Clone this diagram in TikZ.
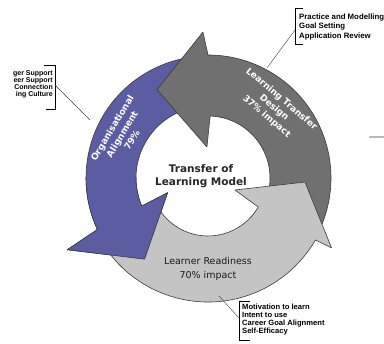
\documentclass[tikz,border=0pt]{standalone}
\usepackage{fontspec}
\setmainfont{DejaVu Sans}
\newfontfamily\calloutfont{Liberation Sans}
\usetikzlibrary{calc}

\definecolor{orgpurple}{RGB}{92,92,163}
\definecolor{designgray}{RGB}{112,112,112}
\definecolor{readylight}{RGB}{196,196,196}
\definecolor{edgegray}{RGB}{60,60,60}

\tikzset{
  arrowshape/.style={draw=edgegray, line width=0.6pt, line join=round},
  bandtext/.style={text=white, font=\bfseries\fontsize{9}{11.5}\selectfont, align=center, inner sep=0pt},
  calloutbox/.style={inner sep=0pt, text=black},
  bracket/.style={draw=black, line width=0.6pt},
  leader/.style={draw=black!75, line width=0.4pt}
}

\begin{document}
\begin{tikzpicture}[x=1pt,y=-1pt]
\useasboundingbox (0,0) rectangle (384,344);
\fill[white] (0,0) rectangle (384,344);

% the three arrows of the cycle, around a common centre
\begin{scope}[shift={(208,178)}, y=1pt]
  % Organisational Alignment
  \def\purplearrow{(100:122) arc[start angle=100,end angle=205,radius=122]
      -- (207:158) -- (232:103) -- (200:43) -- (203:72)
      arc[start angle=203,end angle=100,radius=72] -- cycle}
  \path[arrowshape, fill=orgpurple] \purplearrow;
  % Learning Transfer Design
  \path[arrowshape, fill=designgray] (-22:123) arc[start angle=-22,end angle=90,radius=123]
      -- (92:146) -- (120:102) -- (92:31) -- (88:62)
      arc[start angle=88,end angle=-22,radius=62] -- cycle;
  % Learner Readiness
  \path[arrowshape, fill=readylight] (205:124) arc[start angle=205,end angle=330,radius=124]
      -- (330.5:142) -- (357.6:97) -- (336:29.5) -- (330:58)
      arc[start angle=330,end angle=205,radius=58] -- cycle;
  % the purple head lies over the tail of the light arrow
  \begin{scope}
    \clip (0,0) -- (180:200) arc[start angle=180,end angle=262,radius=200] -- cycle;
    \path[arrowshape, fill=orgpurple] \purplearrow;
  \end{scope}
\end{scope}

% labels on the arrows
\node[bandtext, rotate=59] (org) at (122,134) {Organisational\\Alignment\\79\%};
\node[bandtext, rotate=-40] (ltd) at (274,108) {Learning Transfer\\Design\\37\% impact};
\node[font=\fontsize{9.5}{13.5}\selectfont, align=center, text=black!90] (lr) at (208,269)
  {Learner Readiness\\70\% impact};
\node[font=\bfseries\fontsize{10.5}{12.5}\selectfont, align=center, text=black!85] (title) at (201,176)
  {Transfer of\\Learning Model};

% callout: design
\node[calloutbox, font=\calloutfont\bfseries\fontsize{7.8}{9.5}\selectfont, anchor=west, align=left] (design) at (299,26.5)
  {Practice and Modelling\\Goal Setting\\Application Review};
\coordinate (design-pin) at (267,68);
\coordinate (design-hook) at (295,30);
\draw[bracket] (303,8) -- (295,8) -- (295,44) -- (303,44);
\draw[leader] (design-hook) -- (design-pin);

% callout: organisation
\node[calloutbox, font=\calloutfont\bfseries\fontsize{7}{7.2}\selectfont, anchor=east, align=right] (organisation) at (53,84.5)
  {ger Support\\eer Support\\Connection\\ing Culture};
\coordinate (org-pin) at (90,120);
\coordinate (org-hook) at (55,85);
\draw[bracket] (44,65) -- (55,65) -- (55,109) -- (46,109);
\draw[leader] (org-hook) -- (org-pin);

% callout: readiness
\node[calloutbox, font=\calloutfont\bfseries\fontsize{7.6}{8.3}\selectfont, anchor=west, align=left] (readiness) at (242,319.5)
  {Motivation to learn\\Intent to use\\Career Goal Alignment\\Self-Efficacy};
\coordinate (ready-pin) at (219,296);
\coordinate (ready-hook) at (239,318);
\draw[bracket] (250,301) -- (239,301) -- (239,340) -- (250,340);
\draw[leader] (ready-hook) -- (ready-pin);

% faint stroke at the right margin
\draw[gray!55, line width=2.5pt, line cap=round] (370,137) -- (384,137);
\end{tikzpicture}
\end{document}
